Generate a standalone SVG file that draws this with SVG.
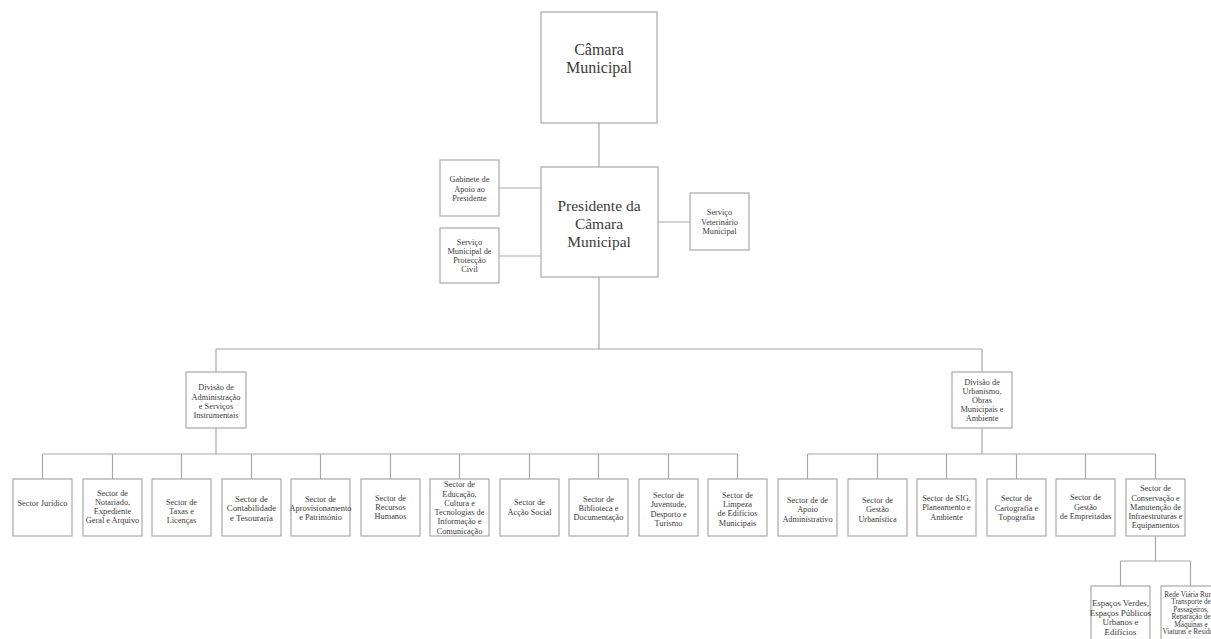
<svg xmlns="http://www.w3.org/2000/svg" width="1211" height="639" viewBox="0 0 1211 639">
<style>
.bx{fill:#fff;stroke:#a8a8a8;stroke-width:1.2}
.ln{fill:none;stroke:#a8a8a8;stroke-width:1.2}
text{font-family:"Liberation Serif","Times New Roman",serif;fill:#3a3a3a;text-anchor:middle}
.s{font-size:8.3px}
.m{font-size:8.8px}
.xs{font-size:7.2px}
.l{font-size:15.5px}
</style>
<rect width="1211" height="639" fill="#fff"/>
<g id="connectors">
<path class="ln" d="M599 123V167M499 188H541M499 256H541M658 222H690M599 277V349M216 349H982M216 349V372M982 349V372"/>
<path class="ln" d="M216 428V454M42.5 454H737.5M42.5 454V479M112.5 454V479M181.5 454V479M251.5 454V479M320.5 454V479M390.5 454V479M459.5 454V479M529.5 454V479M598.5 454V479M668.5 454V479M737.5 454V479"/>
<path class="ln" d="M982 428V454M807.5 454H1155.5M807.5 454V479M877.5 454V479M946.5 454V479M1016.5 454V479M1085.5 454V479M1155.5 454V479"/>
<path class="ln" d="M1155.5 536V561M1120.5 561H1190.5M1120.5 561V586M1190.5 561V586"/>
</g>
<g id="camara"><rect class="bx" x="541" y="12" width="116" height="111"/><text class="l" style="font-size:16px"><tspan x="599" y="55">Câmara</tspan><tspan x="599" y="73">Municipal</tspan></text></g>
<g id="presidente"><rect class="bx" x="541" y="167" width="117" height="110"/><text class="l"><tspan x="599" y="211">Presidente da</tspan><tspan x="599" y="229">Câmara</tspan><tspan x="599" y="247">Municipal</tspan></text></g>
<g id="gabinete"><rect class="bx" x="440" y="160" width="59" height="56"/><text class="s"><tspan x="469.5" y="182">Gabinete de</tspan><tspan x="469.5" y="191.5">Apoio ao</tspan><tspan x="469.5" y="201">Presidente</tspan></text></g>
<g id="proteccao"><rect class="bx" x="440" y="228" width="59" height="55"/><text class="s"><tspan x="469.5" y="245">Serviço</tspan><tspan x="469.5" y="254">Municipal de</tspan><tspan x="469.5" y="263">Protecção</tspan><tspan x="469.5" y="272">Civil</tspan></text></g>
<g id="veterinario"><rect class="bx" x="690" y="193" width="59" height="57"/><text class="s"><tspan x="719.5" y="215">Serviço</tspan><tspan x="719.5" y="224.5">Veterinário</tspan><tspan x="719.5" y="234">Municipal</tspan></text></g>
<g id="div-admin"><rect class="bx" x="186" y="372" width="60" height="56"/><text class="s"><tspan x="216" y="390">Divisão de</tspan><tspan x="216" y="399.5">Administração</tspan><tspan x="216" y="409">e Serviços</tspan><tspan x="216" y="418">Instrumentais</tspan></text></g>
<g id="div-urb"><rect class="bx" x="952" y="372" width="60" height="56"/><text class="s"><tspan x="982" y="385">Divisão de</tspan><tspan x="982" y="394">Urbanismo,</tspan><tspan x="982" y="403">Obras</tspan><tspan x="982" y="412">Municipais e</tspan><tspan x="982" y="421">Ambiente</tspan></text></g>
<g id="s-juridico"><rect class="bx" x="13" y="479" width="59" height="57"/><text class="s"><tspan x="42.5" y="506">Sector Jurídico</tspan></text></g>
<g id="s-notariado"><rect class="bx" x="83" y="479" width="59" height="57"/><text class="s"><tspan x="112.5" y="496">Sector de</tspan><tspan x="112.5" y="505">Notariado,</tspan><tspan x="112.5" y="514">Expediente</tspan><tspan x="112.5" y="523">Geral e Arquivo</tspan></text></g>
<g id="s-taxas"><rect class="bx" x="152" y="479" width="59" height="57"/><text class="s"><tspan x="181.5" y="505">Sector de</tspan><tspan x="181.5" y="514">Taxas e</tspan><tspan x="181.5" y="523">Licenças</tspan></text></g>
<g id="s-contab"><rect class="bx" x="222" y="479" width="59" height="57"/><text class="s" style="font-size:8.8px"><tspan x="251.5" y="502">Sector de</tspan><tspan x="251.5" y="511">Contabilidade</tspan><tspan x="251.5" y="521">e Tesouraria</tspan></text></g>
<g id="s-aprov"><rect class="bx" x="291" y="479" width="59" height="57"/><text class="s"><tspan x="320.5" y="502">Sector de</tspan><tspan x="320.5" y="511">Aprovisionamento</tspan><tspan x="320.5" y="519.5">e Património</tspan></text></g>
<g id="s-rh"><rect class="bx" x="361" y="479" width="59" height="57"/><text class="s"><tspan x="390.5" y="501">Sector de</tspan><tspan x="390.5" y="510">Recursos</tspan><tspan x="390.5" y="519">Humanos</tspan></text></g>
<g id="s-educacao"><rect class="bx" x="430" y="479" width="59" height="57"/><text class="s"><tspan x="459.5" y="487">Sector de</tspan><tspan x="459.5" y="497">Educação,</tspan><tspan x="459.5" y="506">Cultura e</tspan><tspan x="459.5" y="515">Tecnologias de</tspan><tspan x="459.5" y="524">Informação e</tspan><tspan x="459.5" y="534">Comunicação</tspan></text></g>
<g id="s-accao"><rect class="bx" x="500" y="479" width="59" height="57"/><text class="s"><tspan x="529.5" y="505">Sector de</tspan><tspan x="529.5" y="515">Acção Social</tspan></text></g>
<g id="s-biblioteca"><rect class="bx" x="569" y="479" width="59" height="57"/><text class="s"><tspan x="598.5" y="502">Sector de</tspan><tspan x="598.5" y="511">Biblioteca e</tspan><tspan x="598.5" y="520">Documentação</tspan></text></g>
<g id="s-juventude"><rect class="bx" x="639" y="479" width="59" height="57"/><text class="s"><tspan x="668.5" y="498">Sector de</tspan><tspan x="668.5" y="507">Juventude,</tspan><tspan x="668.5" y="517">Desporto e</tspan><tspan x="668.5" y="526">Turismo</tspan></text></g>
<g id="s-limpeza"><rect class="bx" x="708" y="479" width="59" height="57"/><text class="s"><tspan x="737.5" y="498">Sector de</tspan><tspan x="737.5" y="507">Limpeza</tspan><tspan x="737.5" y="516">de Edifícios</tspan><tspan x="737.5" y="526">Municipais</tspan></text></g>
<g id="s-apoio"><rect class="bx" x="778" y="479" width="59" height="57"/><text class="s"><tspan x="807.5" y="503">Sector de de</tspan><tspan x="807.5" y="512">Apoio</tspan><tspan x="807.5" y="522">Administrativo</tspan></text></g>
<g id="s-gestao-urb"><rect class="bx" x="848" y="479" width="59" height="57"/><text class="s"><tspan x="877.5" y="503">Sector de</tspan><tspan x="877.5" y="512">Gestão</tspan><tspan x="877.5" y="522">Urbanística</tspan></text></g>
<g id="s-sig"><rect class="bx" x="917" y="479" width="59" height="57"/><text class="s"><tspan x="946.5" y="501">Sector de SIG,</tspan><tspan x="946.5" y="510">Planeamento e</tspan><tspan x="946.5" y="520">Ambiente</tspan></text></g>
<g id="s-cartografia"><rect class="bx" x="987" y="479" width="59" height="57"/><text class="s"><tspan x="1016.5" y="501">Sector de</tspan><tspan x="1016.5" y="511">Cartografia e</tspan><tspan x="1016.5" y="520">Topografia</tspan></text></g>
<g id="s-empreitadas"><rect class="bx" x="1056" y="479" width="59" height="57"/><text class="s"><tspan x="1085.5" y="500">Sector de</tspan><tspan x="1085.5" y="510">Gestão</tspan><tspan x="1085.5" y="519">de Empreitadas</tspan></text></g>
<g id="s-conservacao"><rect class="bx" x="1126" y="479" width="59" height="57"/><text class="s"><tspan x="1155.5" y="491">Sector de</tspan><tspan x="1155.5" y="501">Conservação e</tspan><tspan x="1155.5" y="510">Manutenção de</tspan><tspan x="1155.5" y="519">Infraestruturas e</tspan><tspan x="1155.5" y="528">Equipamentos</tspan></text></g>
<g id="espacos-verdes"><rect class="bx" x="1091" y="586" width="59" height="60"/><text class="m"><tspan x="1120.5" y="606">Espaços Verdes,</tspan><tspan x="1120.5" y="615.5">Espaços Públicos</tspan><tspan x="1120.5" y="625">Urbanos e</tspan><tspan x="1120.5" y="634.5">Edifícios</tspan></text></g>
<g id="rede-viaria"><rect class="bx" x="1161" y="586" width="60" height="60"/><text class="xs"><tspan x="1191" y="596.5">Rede Viária Rural,</tspan><tspan x="1191" y="604">Transporte de</tspan><tspan x="1191" y="611.5">Passageiros,</tspan><tspan x="1191" y="619">Reparação de</tspan><tspan x="1191" y="626.5">Máquinas e</tspan><tspan x="1191" y="634">Viaturas e Resíduos</tspan></text></g>
</svg>
